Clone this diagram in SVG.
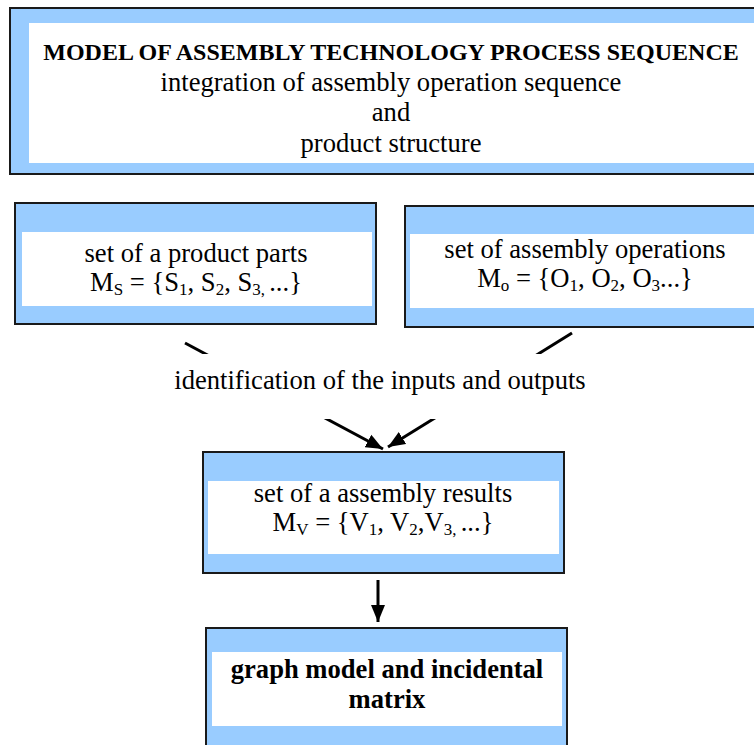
<svg xmlns="http://www.w3.org/2000/svg" width="754" height="745" viewBox="0 0 754 745">
<style>
.outer{fill:#99CCFF;stroke:#1a1a1a;stroke-width:2}
.inner{fill:#ffffff}
.t{font-family:"Liberation Serif","Times New Roman",serif;font-size:26.6px;fill:#000;text-anchor:middle}
.title{font-size:24px;font-weight:bold}
.b{font-weight:bold}
.sub{font-size:17px}
.conn{stroke:#000;stroke-width:3;fill:none}
</style>
<defs>
<marker id="ah" markerUnits="userSpaceOnUse" markerWidth="18" markerHeight="16" refX="17" refY="8" orient="auto">
<path d="M0,1 L17,8 L0,15 Z" fill="#000"/>
</marker>
</defs>
<rect width="754" height="745" fill="#fff"/>
<g id="connectors">
<line class="conn" x1="185" y1="343" x2="383" y2="449" marker-end="url(#ah)"/>
<line class="conn" x1="572" y1="333" x2="388" y2="447" marker-end="url(#ah)"/>
<line class="conn" x1="378" y1="580" x2="378" y2="622" marker-end="url(#ah)"/>
</g>
<g id="node-model">
<rect class="outer" x="10" y="8" width="770" height="166"/>
<rect class="inner" x="29" y="23" width="760" height="140"/>
<text class="t"><tspan class="title" x="391" y="60">MODEL OF ASSEMBLY TECHNOLOGY PROCESS SEQUENCE</tspan><tspan x="391" y="91">integration of assembly operation sequence</tspan><tspan x="391" y="121">and</tspan><tspan x="391" y="152">product structure</tspan></text>
</g>
<g id="node-parts">
<rect class="outer" x="15" y="203" width="361" height="121"/>
<rect class="inner" x="22" y="232" width="350" height="74"/>
<text class="t"><tspan x="196" y="262">set of a product parts</tspan><tspan x="196" y="291">M<tspan class="sub" dy="4">S</tspan><tspan dy="-4"> = {S</tspan><tspan class="sub" dy="4">1</tspan><tspan dy="-4">, S</tspan><tspan class="sub" dy="4">2</tspan><tspan dy="-4">, S</tspan><tspan class="sub" dy="4">3, </tspan><tspan dy="-4">...}</tspan></tspan></text>
</g>
<g id="node-operations">
<rect class="outer" x="405" y="206" width="380" height="121"/>
<rect class="inner" x="410" y="234" width="380" height="74"/>
<text class="t"><tspan x="585" y="258">set of assembly operations</tspan><tspan x="585" y="287">M<tspan class="sub" dy="4">o</tspan><tspan dy="-4"> = {O</tspan><tspan class="sub" dy="4">1</tspan><tspan dy="-4">, O</tspan><tspan class="sub" dy="4">2</tspan><tspan dy="-4">, O</tspan><tspan class="sub" dy="4">3</tspan><tspan dy="-4">...}</tspan></tspan></text>
</g>
<g id="label-identification">
<rect x="168" y="354" width="424" height="65" fill="#fff"/>
<text class="t" x="380" y="389">identification of the inputs and outputs</text>
</g>
<g id="node-results">
<rect class="outer" x="203" y="452" width="361" height="121"/>
<rect class="inner" x="208" y="481" width="351" height="73"/>
<text class="t"><tspan x="383" y="502">set of a assembly results</tspan><tspan x="383" y="531">M<tspan class="sub" dy="4">V</tspan><tspan dy="-4"> = {V</tspan><tspan class="sub" dy="4">1</tspan><tspan dy="-4">, V</tspan><tspan class="sub" dy="4">2</tspan><tspan dy="-4">,V</tspan><tspan class="sub" dy="4">3, </tspan><tspan dy="-4">...}</tspan></tspan></text>
</g>
<g id="node-graph">
<rect class="outer" x="206" y="628" width="361" height="140"/>
<rect class="inner" x="212" y="652" width="350" height="74"/>
<text class="t b"><tspan x="387" y="678">graph model and incidental</tspan><tspan x="387" y="708">matrix</tspan></text>
</g>
</svg>
